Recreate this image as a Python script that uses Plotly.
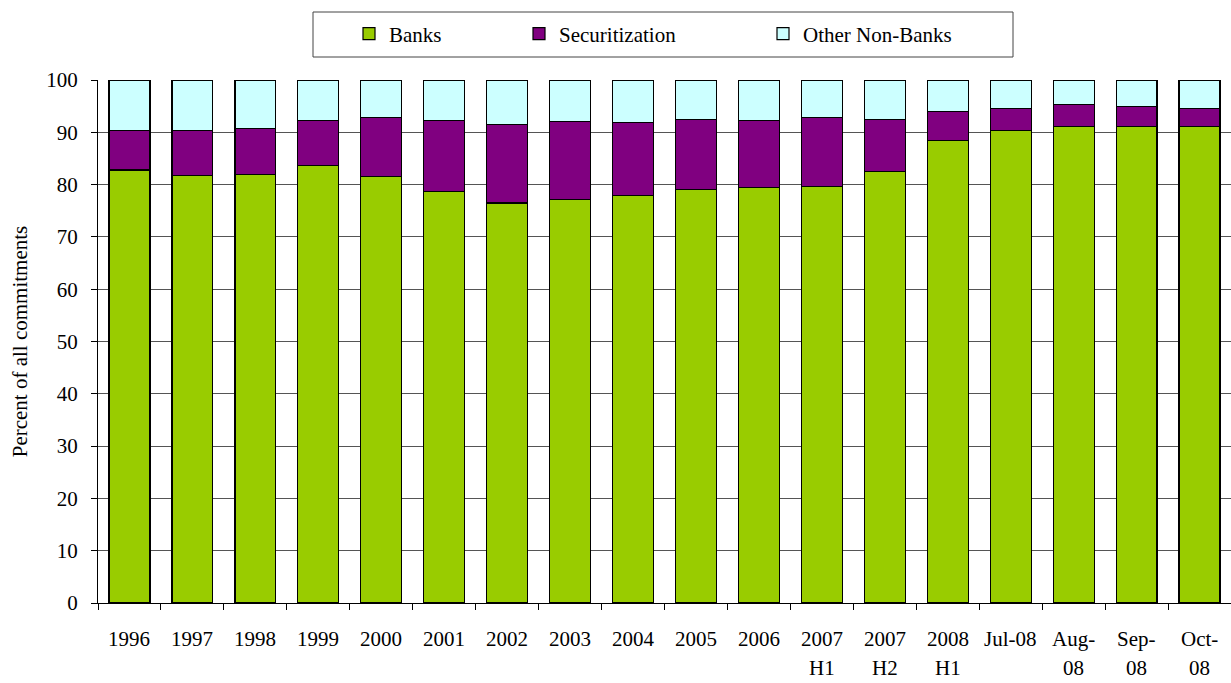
import plotly.graph_objects as go

categories = ["1996", "1997", "1998", "1999", "2000", "2001", "2002", "2003", "2004",
              "2005", "2006", "2007 H1", "2007 H2", "2008 H1", "Jul-08",
              "Aug-08", "Sep-08", "Oct-08"]
label_line1 = ["1996", "1997", "1998", "1999", "2000", "2001", "2002", "2003", "2004",
               "2005", "2006", "2007", "2007", "2008", "Jul-08", "Aug-", "Sep-", "Oct-"]
label_line2 = ["", "", "", "", "", "", "", "", "", "", "", "H1", "H2", "H1", "", "08", "08", "08"]
banks = [82.8, 81.7, 82.0, 83.6, 81.5, 78.7, 76.5, 77.1, 77.9, 79.0, 79.5, 79.7, 82.5, 88.5, 90.4, 91.1, 91.1, 91.1]
securitization = [7.6, 8.7, 8.7, 8.7, 11.4, 13.6, 15.0, 14.9, 13.9, 13.5, 12.8, 13.2, 10.0, 5.5, 4.1, 4.2, 3.8, 3.4]
other_non_banks = [9.6, 9.6, 9.3, 7.7, 7.1, 7.7, 8.5, 8.0, 8.2, 7.5, 7.7, 7.1, 7.5, 6.0, 5.5, 4.7, 5.1, 5.5]
y_ticks = [0, 10, 20, 30, 40, 50, 60, 70, 80, 90, 100]

FONT = "Liberation Serif"
FS = 21

W, H = 1231, 683
L, R, T, B = 98, 0, 80, 80
plot_h = H - T - B
plot_w = W - L - R

series = [("Banks", banks, "#99CC00", "legend", 349),
          ("Securitization", securitization, "#800080", "legend2", 519),
          ("Other Non-Banks", other_non_banks, "#CCFFFF", "legend3", 763)]

fig = go.Figure()
legends = {}
for name, vals, col, lg, px in series:
    fig.add_trace(go.Bar(x=categories, y=vals, name=name, marker_color=col,
                         marker_line_color="black", marker_line_width=1.2,
                         legend=lg))
    legends[lg] = dict(x=(px - L) / plot_w, xref="paper", xanchor="left",
                       y=(H - B - 34) / plot_h, yref="paper", yanchor="middle",
                       borderwidth=0, bgcolor="rgba(0,0,0,0)",
                       font=dict(size=FS, family=FONT, color="black"))

fig.update_layout(
    barmode="stack",
    bargap=0.35,
    width=W, height=H,
    margin=dict(l=L, r=R, t=T, b=B, autoexpand=False),
    plot_bgcolor="white", paper_bgcolor="white",
    font=dict(family=FONT, size=FS, color="black"),
    showlegend=True,
    **legends,
)

# legend frame
fig.add_shape(type="rect", xref="paper", yref="paper",
              x0=(313 - L) / plot_w, x1=(1013 - L) / plot_w,
              y0=(H - B - 57) / plot_h, y1=(H - B - 12) / plot_h,
              line=dict(color="#444", width=1), fillcolor="rgba(0,0,0,0)", layer="below")

# category labels (two lines, wide line spacing), placed by category index
for i, (l1, l2) in enumerate(zip(label_line1, label_line2)):
    fig.add_annotation(x=i, xref="x", yref="paper", y=-(639 - (H - B)) / plot_h,
                       text=l1, showarrow=False, yanchor="middle",
                       font=dict(size=FS, family=FONT, color="black"))
    if l2:
        fig.add_annotation(x=i, xref="x", yref="paper", y=-(668 - (H - B)) / plot_h,
                           text=l2, showarrow=False, yanchor="middle",
                           font=dict(size=FS, family=FONT, color="black"))

fig.update_xaxes(type="category", range=[-0.5, len(categories) - 0.5],
                 showline=True, linecolor="black", linewidth=1,
                 ticks="outside", ticklen=6, tickcolor="black", tickson="boundaries",
                 showticklabels=False, showgrid=False)
fig.update_yaxes(range=[0, 100], tickvals=y_ticks, showline=True, linecolor="black",
                 linewidth=1, ticks="outside", ticklen=6, tickcolor="black",
                 ticklabelstandoff=9,
                 showgrid=True, gridcolor="#555", gridwidth=1,
                 tickfont=dict(size=FS, family=FONT),
                 title=dict(text="Percent of all commitments",
                            font=dict(size=FS, family=FONT), standoff=12))

fig.write_html("out.html")
